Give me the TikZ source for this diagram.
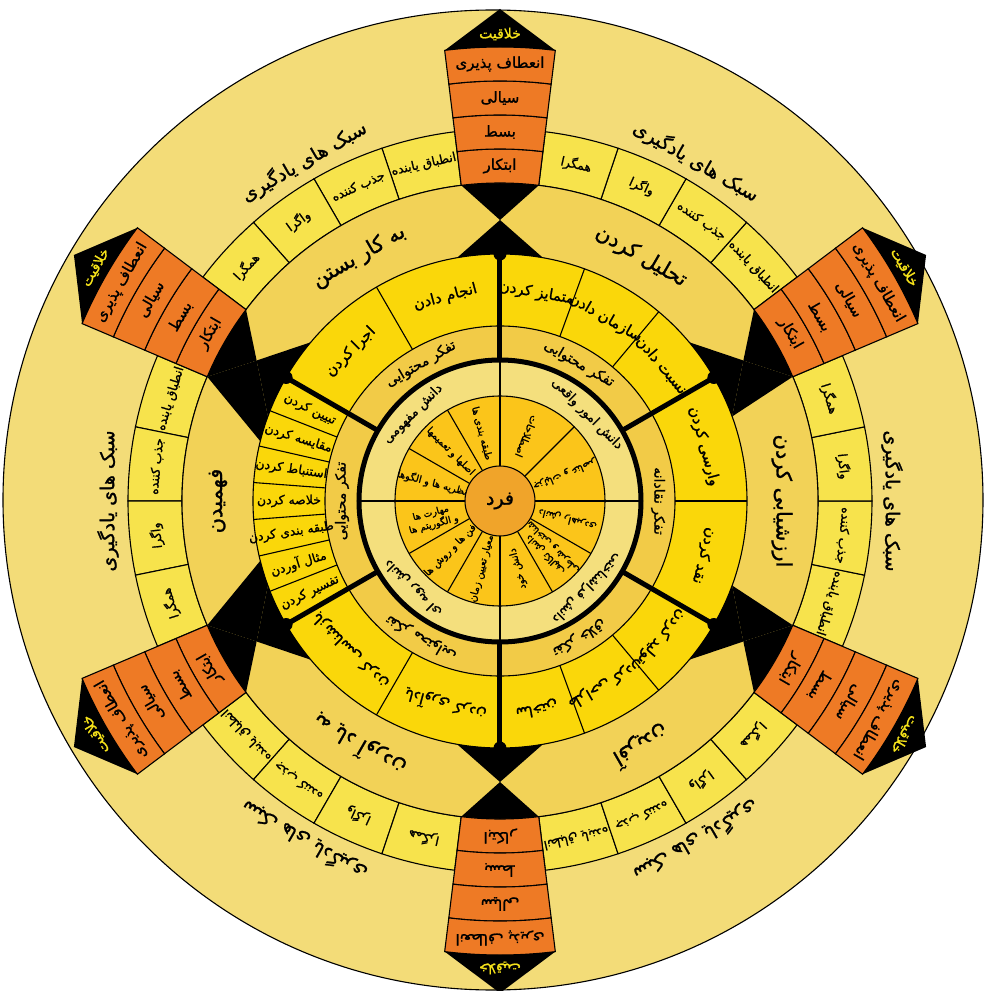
\documentclass[tikz,border=0pt]{standalone}
\usepackage{fontspec}
\TeXXeTstate=1
\newfontfamily\fa[Script=Arabic,FakeBold=1.2]{DejaVu Sans}
\definecolor{bgout}{HTML}{F3DC78}
\definecolor{stylec}{HTML}{F7E34C}
\definecolor{bigc}{HTML}{F2D257}
\definecolor{verbc}{HTML}{FAD70A}
\definecolor{thinkc}{HTML}{F2CB47}
\definecolor{lightc}{HTML}{F4DF7D}
\definecolor{knowc}{HTML}{FBC51A}
\definecolor{centc}{HTML}{F0A42A}
\definecolor{orc}{HTML}{EE7A25}
\definecolor{goldtxt}{HTML}{F5E21A}
\newcommand\rl[1]{\beginR #1\endR}
\newcommand\fs[1]{\fa\fontsize{#1}{#1}\selectfont}
\newcommand\annsec[5]{\path[#1] (#2:#4) arc[start angle=#2,end angle=#3,radius=#4] -- (#3:#5) arc[start angle=#3,end angle=#2,radius=#5] -- cycle;}
\tikzset{
  ln/.style={line width=1.1pt},
  txt/.style={inner sep=0pt, text=black, align=center},
}
\begin{document}
\begin{tikzpicture}[x=1pt,y=1pt]
\useasboundingbox (-500,-490) rectangle (486,501);
\filldraw[fill=bgout,draw=black,ln] (-7,1) circle[radius=490];
% learning styles ring
\foreach \k in {0,...,5}{
  \foreach \i/\t in {0/{انطباق یابنده},1/{جذب کننده},2/{واگرا},3/{همگرا}}{
    \pgfmathsetmacro\angA{30+60*\k+7+11.5*\i}
    \pgfmathsetmacro\angB{\angA+11.5}
    \pgfmathsetmacro\angM{\angA+5.75}
    \annsec{fill=stylec,draw=black,ln}{\angA}{\angB}{318}{372}
    \node[txt,font=\fs{12.5},rotate=\angM-90] (st\k\i) at (\angM:345) {\rl{\t}};
  }
  \pgfmathsetmacro\angM{60*\k}
  \node[txt,font=\fs{19},rotate=\angM-90] (sl\k) at (\angM:392) {\rl{سبک های یادگیری}};
}
% concentric discs
\filldraw[fill=bigc,draw=black,ln] (0,0) circle[radius=318];
\filldraw[fill=verbc,draw=black,ln] (0,0) circle[radius=247];
\foreach \a in {0,50,70,120,-50,-70,240,158.571,167.143,175.714,184.286,192.857,201.429}
  \draw[ln] (\a:175) -- (\a:247);
\filldraw[fill=thinkc,draw=black,ln] (0,0) circle[radius=175];
\fill[lightc] (0,0) circle[radius=141];
\filldraw[fill=knowc,draw=black,ln] (0,0) circle[radius=105];
\foreach \a in {45,120,150,210,240,300,330}
  \draw[ln] (\a:35) -- (\a:105);
\foreach \a in {0,90,180,270}
  \draw[ln] (\a:35) -- (\a:141);
\filldraw[fill=centc,draw=black,ln] (0,0) circle[radius=35];
\draw[line width=5pt] (0,0) circle[radius=141];
% extra black wedges beside the side spokes
\fill (23:318) -- (20:247) -- (30:281) -- cycle;
\fill (-23:318) -- (-20:247) -- (-30:281) -- cycle;
\fill (157:318) -- (166:247) arc[start angle=166,end angle=160,radius=247] -- (150:281) -- cycle;
\fill (203:318) -- (194:247) arc[start angle=194,end angle=200,radius=247] -- (210:281) -- cycle;
% spokes, hourglasses, creativity boxes
\foreach \k in {0,...,5}{
  \pgfmathsetmacro\ax{30+60*\k}
  \pgfmathsetmacro\al{\ax-7}
  \pgfmathsetmacro\ar{\ax+7}
  \pgfmathsetmacro\lA{\ax-10}
  \pgfmathsetmacro\lB{\ax+10}
  \draw[line width=5pt] (\ax:141) -- (\ax:247);
  \fill (\ax:247) circle[radius=6.5];
  \fill (\lA:247) -- (\ax:281) -- (\lB:247) arc[start angle=\lB,end angle=\lA,radius=247] -- cycle;
  \fill (\al:318) -- (\ax:281) -- (\ar:318) arc[start angle=\ar,end angle=\al,radius=318] -- cycle;
  \foreach \j/\t in {0/{ابتکار},1/{بسط},2/{سیالی},3/{انعطاف پذیری}}{
    \pgfmathsetmacro\rA{318+34*\j}
    \pgfmathsetmacro\rB{\rA+34}
    \pgfmathsetmacro\rM{\rA+17}
    \annsec{fill=orc,draw=black,ln}{\al}{\ar}{\rA}{\rB}
    \node[txt,font=\fs{15},rotate=\ax-90] (ob\k\j) at (\ax:\rM) {\rl{\t}};
  }
  \fill (\al:454) arc[start angle=\al,end angle=\ar,radius=454] -- (\ax:492) -- cycle;
  \node[txt,font=\fs{14},text=goldtxt,rotate=\ax-90] (cr\k) at (\ax:467) {\rl{خلاقیت}};
}
% centre
\node[txt,font=\fs{19}] (center) at (0,0) {\rl{فرد}};
% knowledge subtypes (radial)
\foreach \a/\t [count=\n] in {105/{طبقه بندی ها},135/{اصلها و تعمیمها},165/{نظریه ها و الگوها},67.5/{اصطلاحات},22.5/{جزئیات و عناصر},-15/{دانش راهبردی},-75/{دانش خود},225/{فن ها و روش ها},255/{معیار تعیین زمان}}
  \node[txt,font=\fs{10},rotate=\a+180] (ks\n) at (\a:70) {\rl{\t}};
\node[txt,font=\fs{9.5},rotate=15] (ks10) at (195:70) {\rl{مهارت ها}\\\rl{و الگوریتم ها}};
\node[txt,font=\fs{9.5},rotate=135] (ks11) at (-45:70) {\rl{دانش تکالیف}\\\rl{شناختی و شرطی}};
% knowledge types
\foreach \a/\t [count=\n] in {135/{دانش مفهومی},45/{دانش امور واقعی},-45/{دانش فراشناختی},225/{دانش رویه ای}}
  \node[txt,font=\fs{13},rotate=\a-90] (kt\n) at (\a:123) {\rl{\t}};
% thinking ring
\foreach \a/\t [count=\n] in {120/{تفکر محتوایی},60/{تفکر محتوایی},0/{تفکر نقادانه},-60/{تفکر خلاق},240/{تفکر محتوایی},180/{تفکر محتوایی}}
  \node[txt,font=\fs{14},rotate=\a-90] (th\n) at (\a:158) {\rl{\t}};
% verbs (tangential)
\foreach \a/\t [count=\n] in {105/{انجام دادن},135/{اجرا کردن},80/{متمایز کردن},60/{سازمان دادن},40/{نسبت دادن},15/{وارسی کردن},-15/{نقد کردن},-40/{تولید کردن},-60/{طراحی کردن},-80/{ساختن},225/{بازشناسی کردن},255/{یادآوری کردن}}
  \node[txt,font=\fs{15},rotate=\a-90] (vb\n) at (\a:211) {\rl{\t}};
% verbs (radial, understanding)
\foreach \a/\t [count=\n] in {154.286/{تبیین کردن},162.857/{مقایسه کردن},171.429/{استنباط کردن},180/{خلاصه کردن},188.571/{طبقه بندی کردن},197.143/{مثال آوردن},205.714/{تفسیر کردن}}
  \node[txt,font=\fs{12.5},rotate=\a+180] (vu\n) at (\a:211) {\rl{\t}};
% cognitive process labels
\foreach \a/\t [count=\n] in {120/{به کار بستن},60/{تحلیل کردن},0/{ارزشیابی کردن},-60/{آفریدن},240/{به یاد آوردن},180/{فهمیدن}}
  \node[txt,font=\fs{21},rotate=\a-90] (cp\n) at (\a:282) {\rl{\t}};
\end{tikzpicture}
\end{document}
